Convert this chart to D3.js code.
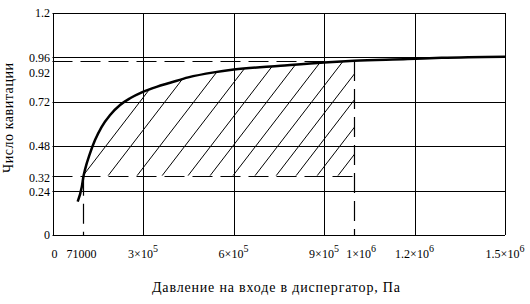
<!DOCTYPE html>
<html>
<head>
<meta charset="utf-8">
<script src="https://cdn.jsdelivr.net/npm/d3@7"></script>
<style>
  body { margin: 0; background: #fff; }
</style>
</head>
<body>
<div id="chart"></div>
<script>
// pressure at disperser inlet, Pa  /  cavitation number
var pressure = [83500, 97000, 103000, 108000, 124000, 141000, 163000, 191000, 224000, 257000,
                296000, 345000, 390000, 450000, 535000, 601000, 756000, 900000, 1000000,
                1177000, 1290000, 1500000];
var cavitation = [0.18, 0.26, 0.32, 0.355, 0.44, 0.513, 0.585, 0.649, 0.703, 0.739,
                  0.771, 0.801, 0.823, 0.852, 0.879, 0.894, 0.915, 0.933, 0.942,
                  0.951, 0.958, 0.964];

var yTicks = [0, 0.24, 0.32, 0.48, 0.72, 0.92, 0.96, 1.2];
var yGrid = [0.24, 0.48, 0.72, 0.96, 1.2];
var xTicks = [0, 71000, 3e5, 6e5, 9e5, 1e6, 1.2e6, 1.5e6];
var xTickLabels = ["0", "71000", "3×10^5", "6×10^5", "9×10^5", "1×10^6", "1.2×10^6", "1.5×10^6"];
var xGrid = [3e5, 6e5, 9e5, 1.2e6, 1.5e6];

// marker lines (the 71000 marker sits at ~1e5 on the drawn axis)
var markerLowX = 102600, markerLowY = 0.32;
var markerHighX = 1e6, markerHighY = 0.94;
// hatch line start points on the 0.32 level, Pa
var hatchStarts = [101000, 184000, 280000, 363000, 449000, 522000, 598000, 671000,
                   741000, 807000, 877000, 946000];

var W = 530, H = 304;
var FONT = '"Liberation Serif"';
var x = d3.scaleLinear().domain([0, 1.5e6]).range([52.5, 505]);
var y = d3.scaleLinear().domain([0, 1.2]).range([235, 13]);

var svg = d3.select('#chart').append('svg')
    .attr('width', W).attr('height', H);

var g = svg.append('g');

// grid
g.selectAll('.hg').data(yGrid).join('line')
    .attr('x1', x(0)).attr('x2', x(1.5e6))
    .attr('y1', d => Math.round(y(d)) + 0.5).attr('y2', d => Math.round(y(d)) + 0.5)
    .attr('stroke', '#000').attr('stroke-width', 1);
g.selectAll('.vg').data(xGrid).join('line')
    .attr('x1', d => Math.round(x(d)) + 0.5).attr('x2', d => Math.round(x(d)) + 0.5)
    .attr('y1', y(0)).attr('y2', y(1.2))
    .attr('stroke', '#000').attr('stroke-width', 1);

// axes
g.append('line').attr('x1', Math.round(x(0)) + 0.5).attr('x2', Math.round(x(0)) + 0.5)
    .attr('y1', y(0)).attr('y2', y(1.2)).attr('stroke', '#000');
g.append('line').attr('x1', x(0)).attr('x2', x(1.5e6))
    .attr('y1', Math.round(y(0)) + 0.5).attr('y2', Math.round(y(0)) + 0.5).attr('stroke', '#000');

// hatched region: between curve and 0.32 level, up to 1e6
var pts = d3.zip(pressure, cavitation);
var inside = pts.filter(d => d[0] >= markerLowX && d[0] <= markerHighX);
var area = d3.area()
    .x(d => x(d[0])).y0(y(markerLowY)).y1(d => y(d[1]))
    .curve(d3.curveMonotoneX);
svg.append('clipPath').attr('id', 'hatchClip')
  .append('path').attr('d', area(inside));

var slope = 1.3;
g.append('g').attr('clip-path', 'url(#hatchClip)')
  .selectAll('line').data(hatchStarts).join('line')
    .attr('x1', d => x(d)).attr('y1', y(markerLowY))
    .attr('x2', d => x(d) + (y(markerLowY) - y(1.2)) / slope).attr('y2', y(1.2))
    .attr('stroke', '#000').attr('stroke-width', 1);

// dashed marker lines
var dash = '20,8';
function dline(x1, y1, x2, y2) {
  g.append('line')
    .attr('x1', x1).attr('y1', y1).attr('x2', x2).attr('y2', y2)
    .attr('stroke', '#000').attr('stroke-width', 1.2)
    .attr('stroke-dasharray', dash);
}
dline(x(0), Math.round(y(markerLowY)) + 0.5, x(markerHighX), Math.round(y(markerLowY)) + 0.5);
dline(x(0), Math.round(y(markerHighY)) + 0.5, x(markerHighX), Math.round(y(markerHighY)) + 0.5);
dline(Math.round(x(markerLowX)) + 0.5, y(markerLowY), Math.round(x(markerLowX)) + 0.5, y(0));
dline(Math.round(x(markerHighX)) + 0.5, y(markerHighY), Math.round(x(markerHighX)) + 0.5, y(0));

// curve
var line = d3.line().x(d => x(d[0])).y(d => y(d[1])).curve(d3.curveMonotoneX);
g.append('path').attr('d', line(pts))
    .attr('fill', 'none').attr('stroke', '#000').attr('stroke-width', 2.5);

// y tick labels
g.selectAll('.yl').data(yTicks).join('text')
    .attr('x', 50).attr('y', d => y(d) + (d === 0.92 ? 8 : d === 0.32 ? 2 : d === 0.24 ? 1.5 : 0))
    .attr('dy', '0.35em')
    .attr('text-anchor', 'end')
    .style('font-family', FONT)
    .style('font-size', '12px')
    .text(d => d === 0 ? '0' : String(d));

// x tick labels with superscripts; 71000 is written under its marker line
function labelX(v) {
  if (v === 71000) return x(markerLowX) - 2;
  if (v === 1e6) return x(v) + 7;
  if (v === 0) return x(v) + 2;
  return x(v);
}
xTicks.forEach(function (v, i) {
  var parts = xTickLabels[i].split('^');
  var t = g.append('text')
    .attr('x', labelX(v))
    .attr('y', 258)
    .attr('text-anchor', 'middle')
    .style('font-family', FONT)
    .style('font-size', '12px');
  t.append('tspan').text(parts[0]);
  if (parts[1]) {
    t.append('tspan').attr('dy', -6).style('font-size', '10px').text(parts[1]);
  }
});

// axis titles
g.append('text')
    .attr('x', 276).attr('y', 292)
    .attr('text-anchor', 'middle')
    .style('font-family', FONT)
    .style('font-size', '14px')
    .attr('textLength', 248).attr('lengthAdjust', 'spacing')
    .text('Давление на входе в диспергатор, Па');

g.append('text')
    .attr('transform', 'translate(13,118) rotate(-90)')
    .attr('text-anchor', 'middle')
    .style('font-family', FONT)
    .style('font-size', '14px')
    .attr('textLength', 110).attr('lengthAdjust', 'spacing')
    .text('Число кавитации');
</script>
</body>
</html>
